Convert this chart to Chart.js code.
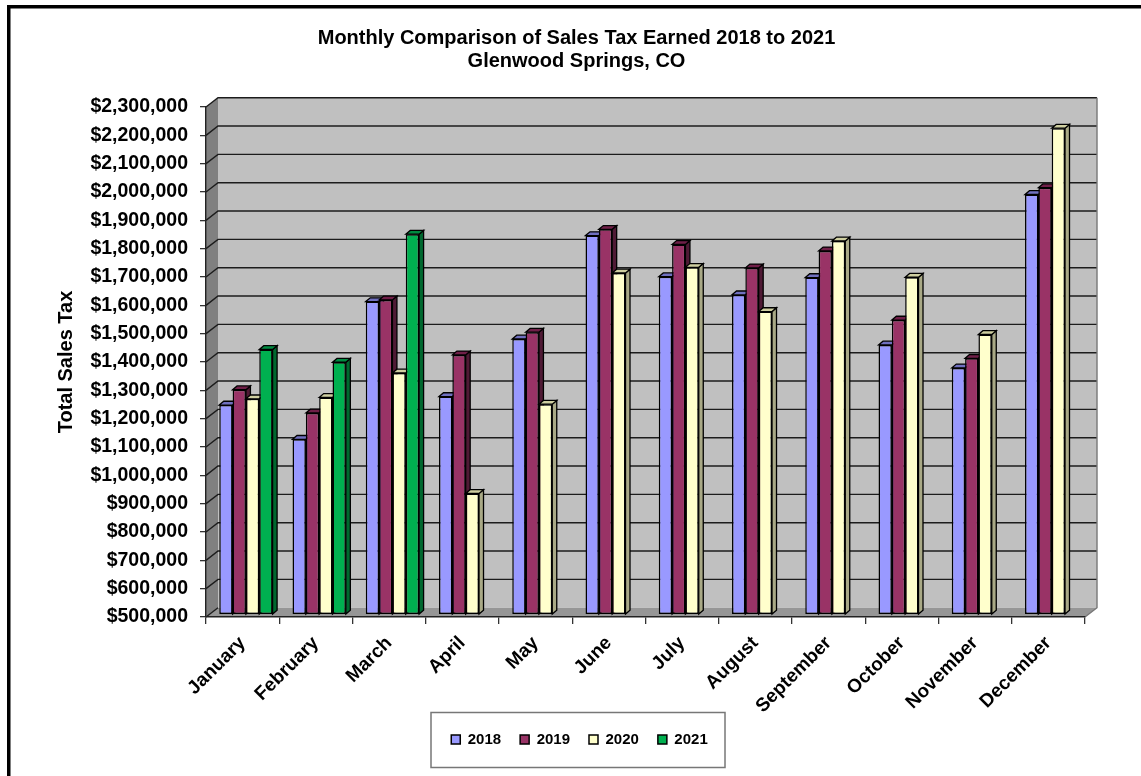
<!DOCTYPE html>
<html>
<head>
<meta charset="utf-8">
<script src="https://cdn.jsdelivr.net/npm/chart.js@4"></script>
<style>
    html, body { margin: 0; background: #fff; }
    canvas { display: block; }
</style>
</head>
<body>
<canvas id="sales-chart" width="1141" height="776"></canvas>
<script>
const MONTHS = ['January', 'February', 'March', 'April', 'May', 'June', 'July', 'August', 'September', 'October', 'November', 'December'];
const SERIES_NAMES = ['2018', '2019', '2020', '2021'];

const SALES_2018 = [1240000, 1119000, 1605000, 1270000, 1473000, 1838000, 1693000, 1629000, 1690000, 1452000, 1371000, 1983000];
const SALES_2019 = [1294000, 1212000, 1611000, 1417000, 1497000, 1860000, 1807000, 1724000, 1784000, 1540000, 1405000, 2007000];
const SALES_2020 = [1262000, 1267000, 1353000, 928000, 1243000, 1706000, 1726000, 1570000, 1819000, 1691000, 1489000, 2217000];
const SALES_2021 = [1436000, 1391000, 1843000, null, null, null, null, null, null, null, null, null];

const Y_MIN = 500000,
      Y_MAX = 2300000,
      Y_STEP = 100000;

const FACE_COLORS = ['#9999ff', '#993366', '#ffffcc', '#00b050'];
const SIDE_COLORS = ['#55558f', '#4f1a35', '#a9a986', '#00682f'];
const TOP_COLORS = ['#7070c0', '#701f48', '#cfcfa0', '#008a40'];

const FONT = '"Liberation Sans", Arial, sans-serif';

// depth of the back wall and of each bar, in pixels
const WALL_DX = 12, WALL_DY = 9.3;
const BAR_SHIFT_X = 3.3, BAR_SHIFT_Y = 2.3;
const BAR_DX = 4.5, BAR_DY = 3.8;

function polygon(ctx, points, fill, stroke, lineWidth) {
    ctx.beginPath();
    points.forEach((p, i) => i ? ctx.lineTo(p[0], p[1]) : ctx.moveTo(p[0], p[1]));
    ctx.closePath();
    ctx.fillStyle = fill;
    ctx.fill();
    if (stroke) {
        ctx.strokeStyle = stroke;
        ctx.lineWidth = lineWidth;
        ctx.stroke();
    }
}

const wallsPlugin = {
    id: 'walls',
    afterLayout(chart) {
        // the title and legend sit off centre in the original
        const title = chart.titleBlock, legend = chart.legend;
        title.left += 29;
        title.right += 29;
        legend.left += 32;
        legend.right += 32;
        legend.top = 713;
    },
    beforeDraw(chart) {
        const ctx = chart.ctx, x = chart.scales.x, y = chart.scales.y;
        const left = x.left, right = x.right, top = y.getPixelForValue(Y_MAX), bottom = y.getPixelForValue(Y_MIN);

        ctx.save();
        ctx.fillStyle = '#fff';
        ctx.fillRect(0, 0, chart.width, chart.height);

        // black frame, only top and left are in the picture
        ctx.fillStyle = '#000';
        ctx.fillRect(7, 5, chart.width - 7, 3.5);
        ctx.fillRect(7, 5, 3.5, chart.height - 5);

        // legend box
        ctx.strokeStyle = '#777';
        ctx.lineWidth = 1.5;
        ctx.strokeRect(431, 712.5, 294, 55);

        // back wall, side wall, floor
        polygon(ctx, [[left + WALL_DX, top - WALL_DY], [right + WALL_DX, top - WALL_DY], [right + WALL_DX, bottom - WALL_DY], [left + WALL_DX, bottom - WALL_DY]], '#c0c0c0');
        polygon(ctx, [[left, top], [left + WALL_DX, top - WALL_DY], [left + WALL_DX, bottom - WALL_DY], [left, bottom]], '#808080');
        polygon(ctx, [[left, bottom], [left + WALL_DX, bottom - WALL_DY], [right + WALL_DX, bottom - WALL_DY], [right, bottom]], '#969696');

        // grid lines on the walls
        ctx.strokeStyle = '#1c1c1c';
        ctx.lineWidth = 1.4;
        y.ticks.forEach((t) => {
            const py = y.getPixelForValue(t.value);
            ctx.beginPath();
            ctx.moveTo(left, py);
            ctx.lineTo(left + WALL_DX, py - WALL_DY);
            if (t.value !== Y_MIN) ctx.lineTo(right + WALL_DX, py - WALL_DY);
            ctx.stroke();
        });
        ctx.strokeStyle = '#777';
        ctx.beginPath();
        ctx.moveTo(right + WALL_DX, top - WALL_DY);
        ctx.lineTo(right + WALL_DX, bottom - WALL_DY);
        ctx.lineTo(right, bottom);
        ctx.stroke();
        ctx.restore();
    },
    // the default paints the last dataset first, the picture needs left to right
    beforeDatasetDraw() {
        return false;
    },
    afterDatasetsDraw(chart) {
        const ctx = chart.ctx;
        ctx.save();
        ctx.translate(BAR_SHIFT_X, -BAR_SHIFT_Y);
        seriesValues.forEach((values, i) => {
            const meta = chart.getDatasetMeta(i);
            meta.data.forEach((bar, j) => {
                if (values[j] === null) return;
                const l = bar.x - bar.width / 2, r = bar.x + bar.width / 2;
                polygon(ctx, [[r, bar.y], [r + BAR_DX, bar.y - BAR_DY], [r + BAR_DX, bar.base - BAR_DY], [r, bar.base]], SIDE_COLORS[i], '#000', 1.3);
                polygon(ctx, [[l, bar.y], [l + BAR_DX, bar.y - BAR_DY], [r + BAR_DX, bar.y - BAR_DY], [r, bar.y]], TOP_COLORS[i], '#000', 1.3);
                bar.draw(ctx, chart.chartArea);
            });
        });
        ctx.restore();
    }
};

const seriesValues = [SALES_2018, SALES_2019, SALES_2020, SALES_2021];

new Chart(document.getElementById('sales-chart'), {
    type: 'bar',
    data: {
        labels: MONTHS,
        datasets: SERIES_NAMES.map((name, i) => ({
            label: name,
            data: seriesValues[i],
            backgroundColor: FACE_COLORS[i],
            borderColor: '#000',
            borderWidth: 1.5,
            borderSkipped: false,
            base: Y_MIN,
            barPercentage: 1,
            categoryPercentage: 0.728
        }))
    },
    options: {
        responsive: false,
        animation: false,
        layout: { padding: { left: 10, right: 56, top: 0, bottom: 0 } },
        plugins: {
            tooltip: { enabled: false },
            title: {
                display: true,
                text: ['Monthly Comparison of Sales Tax Earned 2018 to 2021', 'Glenwood Springs, CO'],
                color: '#000',
                font: { family: FONT, size: 20, weight: 'bold', lineHeight: 1.15 },
                padding: { top: 27, bottom: 34 }
            },
            legend: {
                position: 'bottom',
                labels: {
                    color: '#000',
                    boxWidth: 9,
                    boxHeight: 9,
                    padding: 19,
                    font: { family: FONT, size: 15, weight: 'bold' }
                }
            }
        },
        scales: {
            x: {
                afterFit(axis) { axis.height = 115; },
                grid: { drawOnChartArea: false, color: '#333', lineWidth: 1.3, tickLength: 7 },
                border: { color: '#222', width: 1.4 },
                ticks: {
                    color: '#000',
                    maxRotation: 45,
                    minRotation: 45,
                    padding: 8,
                    font: { family: FONT, size: 19, weight: 'bold' }
                }
            },
            y: {
                min: Y_MIN,
                max: Y_MAX,
                afterFit(axis) { axis.width = 196; },
                grid: { drawOnChartArea: false, color: '#333', lineWidth: 1.3, tickLength: 6 },
                border: { color: '#222', width: 1.4 },
                title: {
                    display: true,
                    text: 'Total Sales Tax',
                    color: '#000',
                    font: { family: FONT, size: 20, weight: 'bold' },
                    padding: { top: 44, bottom: 0 }
                },
                ticks: {
                    stepSize: Y_STEP,
                    color: '#000',
                    padding: 12,
                    font: { family: FONT, size: 19.5, weight: 'bold' },
                    callback: (v) => '$' + v.toLocaleString('en-US')
                }
            }
        }
    },
    plugins: [wallsPlugin]
});
</script>
</body>
</html>
